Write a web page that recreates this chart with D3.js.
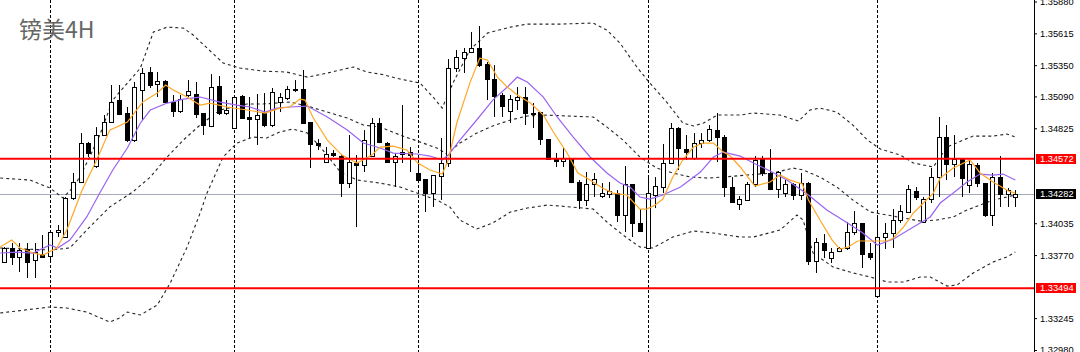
<!DOCTYPE html>
<html>
<head>
<meta charset="utf-8">
<script src="https://cdn.jsdelivr.net/npm/d3@7"></script>
<style>
  html, body { margin: 0; padding: 0; background: #fff; overflow: hidden; }
</style>
</head>
<body>
<div id="chart"></div>
<script>
// GBPUSD 4H candles
const opens = [
  1.33712,1.33829,1.33754,1.33820,1.33729,1.33779,1.33762,1.33962,1.33920,1.34245,
  1.34378,1.34702,1.34511,1.34769,1.34877,1.35060,1.34952,1.34727,1.35143,1.35293,
  1.35193,1.35218,1.35043,1.34968,1.35102,1.35110,1.34952,1.34844,1.35176,1.34952,
  1.34827,1.35093,1.34919,1.34902,1.34952,1.34852,1.35043,1.35077,1.35151,1.35151,
  1.34877,1.34702,1.34544,1.34619,1.34594,1.34369,1.34536,1.34519,1.34594,1.34869,
  1.34702,1.34544,1.34611,1.34627,1.34453,1.34403,1.34286,1.34428,1.34536,1.35326,
  1.35409,1.35459,1.35493,1.35360,1.35235,1.35102,1.34968,1.35060,1.35085,1.34952,
  1.34960,1.34735,1.34569,1.34552,1.34569,1.34378,1.34228,1.34361,1.34261,1.34278,
  1.34286,1.34103,1.34361,1.34037,1.33829,1.34270,1.34336,1.34536,1.34827,1.34652,
  1.34577,1.34702,1.34727,1.34810,1.34752,1.34336,1.34195,1.34228,1.34361,1.34577,
  1.34453,1.34319,1.34286,1.34361,1.34270,1.34369,1.33720,1.33870,1.33745,1.33804,
  1.33829,1.33962,1.34037,1.33787,1.33429,1.33920,1.33953,1.34062,1.34128,1.34303,
  1.34045,1.34236,1.34419,1.34752,1.34528,1.34569,1.34353,1.34519,1.34369,1.34103,
  1.34419,1.34278,1.34253
];
const highs = [
  1.33837,1.33870,1.33870,1.33870,1.33870,1.33937,1.33962,1.34020,1.34253,1.34453,
  1.34785,1.34711,1.34835,1.34935,1.35185,1.35185,1.35002,1.35210,1.35326,1.35335,
  1.35293,1.35226,1.35102,1.35102,1.35226,1.35210,1.34952,1.35276,1.35260,1.35060,
  1.35085,1.35102,1.35085,1.35110,1.35118,1.35160,1.35118,1.35176,1.35226,1.35310,
  1.34877,1.34735,1.34669,1.34644,1.34611,1.34769,1.34602,1.34810,1.34910,1.34910,
  1.34711,1.34619,1.35018,1.34669,1.34561,1.34403,1.34436,1.34744,1.35401,1.35476,
  1.35493,1.35626,1.35676,1.35376,1.35351,1.35118,1.35102,1.35168,1.35168,1.35035,
  1.34960,1.34735,1.34619,1.34661,1.34577,1.34394,1.34461,1.34453,1.34369,1.34378,
  1.34311,1.34511,1.34361,1.34153,1.34428,1.34419,1.34694,1.34869,1.34835,1.34769,
  1.34785,1.34785,1.34852,1.34952,1.34769,1.34419,1.34261,1.34378,1.34594,1.34594,
  1.34652,1.34469,1.34394,1.34369,1.34453,1.34378,1.33912,1.33945,1.33829,1.33837,
  1.34045,1.34136,1.34037,1.33870,1.34103,1.34037,1.34153,1.34186,1.34353,1.34336,
  1.34253,1.34494,1.34919,1.34852,1.34769,1.34569,1.34561,1.34536,1.34369,1.34453,
  1.34594,1.34328,1.34311
];
const lows = [
  1.33704,1.33687,1.33629,1.33579,1.33579,1.33745,1.33704,1.33920,1.33912,1.34228,
  1.34369,1.34586,1.34494,1.34769,1.34877,1.34935,1.34711,1.34711,1.34894,1.35160,
  1.35085,1.35035,1.34919,1.34952,1.35085,1.34910,1.34769,1.34835,1.34935,1.34935,
  1.34827,1.34910,1.34744,1.34686,1.34835,1.34835,1.34960,1.35060,1.35127,1.34869,
  1.34494,1.34644,1.34536,1.34586,1.34253,1.34328,1.34003,1.34461,1.34586,1.34702,
  1.34544,1.34336,1.34536,1.34461,1.34369,1.34128,1.34170,1.34228,1.34503,1.35293,
  1.35285,1.35451,1.35335,1.35060,1.34919,1.34919,1.34869,1.34977,1.34852,1.34827,
  1.34686,1.34561,1.34503,1.34503,1.34369,1.34153,1.34178,1.34253,1.34245,1.34245,
  1.34045,1.33962,1.33920,1.33970,1.33829,1.34161,1.34286,1.34536,1.34478,1.34561,
  1.34561,1.34661,1.34711,1.34544,1.34253,1.34203,1.34145,1.34220,1.34336,1.34428,
  1.34311,1.34245,1.34253,1.34228,1.34228,1.33687,1.33621,1.33745,1.33704,1.33795,
  1.33812,1.33937,1.33662,1.33729,1.33429,1.33820,1.33829,1.34037,1.34120,1.34228,
  1.34037,1.34203,1.34253,1.34394,1.34419,1.34253,1.34286,1.34336,1.34087,1.34012,
  1.34170,1.34170,1.34170
];
const closes = [
  1.33829,1.33754,1.33812,1.33712,1.33795,1.33754,1.33962,1.33978,1.34245,1.34378,
  1.34702,1.34619,1.34769,1.34877,1.35043,1.34943,1.34727,1.35168,1.35285,1.35185,
  1.35218,1.35043,1.34968,1.35068,1.35135,1.34943,1.34852,1.35168,1.34952,1.34977,
  1.35085,1.34910,1.34902,1.34935,1.34852,1.35127,1.35085,1.35151,1.35143,1.34869,
  1.34694,1.34686,1.34611,1.34602,1.34369,1.34544,1.34519,1.34727,1.34869,1.34711,
  1.34544,1.34594,1.34627,1.34602,1.34394,1.34286,1.34436,1.34536,1.35326,1.35418,
  1.35459,1.35493,1.35351,1.35235,1.35093,1.35010,1.35068,1.35085,1.34952,1.34943,
  1.34735,1.34569,1.34552,1.34577,1.34378,1.34228,1.34361,1.34403,1.34286,1.34303,
  1.34103,1.34361,1.34037,1.33970,1.34286,1.34344,1.34536,1.34827,1.34661,1.34627,
  1.34702,1.34727,1.34819,1.34752,1.34336,1.34211,1.34236,1.34361,1.34561,1.34453,
  1.34319,1.34461,1.34361,1.34270,1.34369,1.33720,1.33879,1.33812,1.33795,1.33829,
  1.33962,1.34037,1.33779,1.33754,1.33920,1.33953,1.34062,1.34136,1.34319,1.34253,
  1.34236,1.34419,1.34752,1.34528,1.34569,1.34411,1.34528,1.34369,1.34103,1.34419,
  1.34278,1.34311,1.34282
];

// indicator lines, [bar index, price]
const maFast = [[-0.5,1.33837],[1.0,1.33895],[2.1,1.33829],[3.8,1.33787],[5.1,1.33770],[6.9,1.33829],[8.2,1.33978],[10.2,1.34311],[12.1,1.34561],[13.8,1.34810],[16.1,1.34877],[18.1,1.35043],[20.0,1.35118],[21.1,1.35185],[22.1,1.35143],[23.9,1.35085],[25.6,1.35018],[26.9,1.35035],[29.1,1.35002],[31.7,1.34977],[34.1,1.34952],[36.0,1.34993],[37.3,1.35002],[38.6,1.35068],[39.3,1.35060],[40.3,1.34919],[42.2,1.34727],[44.1,1.34602],[46.1,1.34536],[48.0,1.34602],[49.1,1.34669],[50.8,1.34677],[52.6,1.34644],[54.0,1.34536],[55.6,1.34478],[57.2,1.34444],[58.0,1.34561],[59.1,1.34869],[60.8,1.35201],[62.1,1.35409],[63.1,1.35393],[64.4,1.35251],[65.7,1.35168],[67.0,1.35102],[68.7,1.35035],[70.4,1.34935],[71.7,1.34794],[73.5,1.34619],[74.9,1.34453],[76.5,1.34394],[78.1,1.34328],[79.5,1.34286],[81.3,1.34270],[83.0,1.34153],[83.9,1.34153],[85.0,1.34186],[86.0,1.34236],[87.3,1.34419],[88.6,1.34561],[90.0,1.34669],[91.3,1.34702],[92.6,1.34702],[93.9,1.34627],[94.8,1.34594],[96.1,1.34503],[98.0,1.34344],[100.0,1.34378],[101.3,1.34436],[102.6,1.34394],[104.2,1.34361],[105.0,1.34228],[106.5,1.34062],[108.1,1.33895],[109.1,1.33820],[110.2,1.33837],[111.4,1.33887],[112.7,1.33887],[114.0,1.33887],[115.3,1.33887],[116.1,1.33912],[117.4,1.34003],[118.7,1.34120],[120.0,1.34203],[121.3,1.34286],[122.2,1.34411],[123.9,1.34494],[126.1,1.34561],[127.4,1.34453],[129.1,1.34378],[131.1,1.34303],[132.0,1.34286]];

const maSlow = [[-0.5,1.33787],[1.7,1.33795],[3.8,1.33787],[6.0,1.33854],[7.0,1.33829],[8.6,1.33895],[10.8,1.34087],[12.5,1.34286],[14.2,1.34478],[16.1,1.34661],[17.8,1.34869],[19.1,1.34977],[21.3,1.35035],[23.4,1.35068],[25.6,1.35085],[28.2,1.35043],[30.4,1.35018],[32.1,1.35002],[34.1,1.34960],[35.6,1.34993],[37.3,1.35002],[39.6,1.35010],[42.2,1.34919],[44.8,1.34810],[46.9,1.34702],[49.1,1.34661],[50.8,1.34619],[53.9,1.34611],[55.6,1.34594],[57.2,1.34561],[58.0,1.34602],[59.5,1.34727],[61.7,1.34894],[63.8,1.35060],[65.7,1.35168],[67.0,1.35251],[68.3,1.35210],[70.4,1.35085],[72.2,1.34919],[74.3,1.34752],[76.5,1.34586],[78.7,1.34453],[80.4,1.34369],[81.7,1.34336],[83.0,1.34253],[84.3,1.34236],[86.0,1.34270],[88.3,1.34336],[90.9,1.34461],[92.6,1.34586],[93.9,1.34627],[96.1,1.34594],[97.8,1.34536],[100.0,1.34469],[102.2,1.34394],[105.0,1.34270],[107.4,1.34145],[110.1,1.34037],[112.1,1.33953],[114.0,1.33854],[116.1,1.33904],[118.7,1.34003],[120.9,1.34087],[122.2,1.34203],[123.9,1.34286],[125.7,1.34378],[127.4,1.34444],[129.1,1.34436],[130.4,1.34444],[132.0,1.34394]];

const bbUpper = [[-0.5,1.34411],[3.4,1.34394],[6.0,1.34328],[7.7,1.34245],[9.3,1.34353],[11.0,1.34561],[12.5,1.34769],[14.2,1.35060],[16.1,1.35201],[17.8,1.35326],[19.5,1.35626],[21.3,1.35667],[23.4,1.35659],[24.7,1.35601],[26.5,1.35493],[28.6,1.35368],[30.8,1.35326],[33.8,1.35301],[36.9,1.35293],[39.6,1.35251],[41.6,1.35276],[43.9,1.35310],[45.6,1.35335],[47.4,1.35293],[49.1,1.35276],[51.7,1.35235],[54.3,1.35201],[56.0,1.35085],[57.2,1.34993],[58.6,1.35201],[60.8,1.35476],[63.1,1.35617],[66.1,1.35667],[68.3,1.35692],[72.6,1.35692],[76.9,1.35701],[78.7,1.35642],[80.4,1.35534],[82.6,1.35335],[84.3,1.35201],[86.6,1.35035],[88.6,1.34869],[90.0,1.34844],[91.3,1.34869],[93.1,1.34935],[96.1,1.34935],[97.8,1.34952],[101.3,1.34935],[103.7,1.34885],[105.2,1.34977],[106.5,1.34993],[108.7,1.34960],[110.8,1.34852],[112.7,1.34727],[114.4,1.34652],[117.0,1.34602],[118.7,1.34536],[121.3,1.34503],[123.1,1.34669],[125.2,1.34727],[126.5,1.34760],[129.1,1.34760],[130.9,1.34777],[132.0,1.34752]];

const bbMid = [[-0.5,1.33829],[6.0,1.33812],[8.6,1.33829],[10.8,1.33978],[13.8,1.34170],[16.8,1.34295],[19.1,1.34419],[21.3,1.34586],[23.4,1.34727],[25.6,1.34852],[28.2,1.34977],[31.7,1.35027],[33.8,1.35027],[37.3,1.35043],[39.6,1.35010],[42.2,1.34960],[44.8,1.34910],[46.9,1.34852],[49.1,1.34835],[51.7,1.34769],[54.3,1.34711],[56.5,1.34661],[57.8,1.34611],[59.5,1.34702],[61.7,1.34785],[63.8,1.34844],[66.1,1.34894],[68.3,1.34927],[70.9,1.34935],[73.5,1.34927],[76.9,1.34919],[78.7,1.34835],[80.8,1.34727],[83.0,1.34586],[85.2,1.34494],[87.3,1.34453],[89.6,1.34419],[91.8,1.34411],[93.9,1.34419],[97.0,1.34436],[100.4,1.34453],[103.0,1.34494],[104.3,1.34478],[106.5,1.34419],[108.7,1.34336],[110.8,1.34228],[113.1,1.34128],[115.3,1.34103],[117.4,1.34078],[119.6,1.34053],[121.8,1.34062],[123.9,1.34087],[125.7,1.34145],[127.4,1.34186],[129.1,1.34228],[130.9,1.34253],[132.0,1.34270]];

const bbLower = [[-0.5,1.33288],[6.0,1.33338],[8.2,1.33329],[10.8,1.33296],[13.8,1.33213],[15.1,1.33246],[16.1,1.33296],[17.8,1.33271],[20.0,1.33354],[21.7,1.33537],[23.9,1.33837],[25.6,1.34120],[26.5,1.34286],[28.6,1.34586],[30.4,1.34702],[32.5,1.34752],[34.3,1.34744],[36.0,1.34794],[37.7,1.34819],[39.6,1.34785],[41.3,1.34669],[43.9,1.34461],[46.1,1.34394],[49.1,1.34369],[51.7,1.34336],[53.9,1.34286],[56.5,1.34228],[58.2,1.34170],[59.5,1.34062],[61.7,1.33987],[63.8,1.34037],[66.1,1.34128],[68.3,1.34161],[70.9,1.34186],[72.6,1.34178],[76.9,1.34153],[78.7,1.34045],[80.8,1.33937],[83.0,1.33837],[84.7,1.33829],[87.3,1.33920],[90.0,1.33970],[92.6,1.33953],[96.1,1.33920],[97.8,1.33920],[101.3,1.33978],[103.5,1.34103],[104.3,1.34062],[105.6,1.33787],[108.2,1.33671],[110.8,1.33621],[113.1,1.33587],[115.3,1.33546],[117.4,1.33546],[119.6,1.33587],[120.9,1.33587],[123.1,1.33512],[124.4,1.33521],[126.5,1.33621],[129.1,1.33712],[130.9,1.33754],[132.0,1.33795]];

const priceTicks = [1.35880, 1.35615, 1.35350, 1.35090, 1.34825, 1.34035, 1.33770, 1.33245, 1.32980];
const levels = [1.34572, 1.33494];
const lastPrice = 1.34282;
const gridBars = [6, 30, 54, 84, 114];
const title = "镑美4H";

const width = 1080, height = 352, plotRight = 1034;

const x = d3.scaleLinear().domain([0, 132]).range([4, 1015.3]);
const y = d3.scaleLinear().domain([1.32980, 1.35880]).range([350, 1.5]);

const svg = d3.select("#chart").append("svg")
    .attr("width", width)
    .attr("height", height)
    .attr("viewBox", [0, 0, width, height])
    .style("display", "block");

svg.append("rect").attr("width", width).attr("height", height).attr("fill", "#fff");

svg.append("defs").append("clipPath")
    .attr("id", "clip")
  .append("rect")
    .attr("width", plotRight)
    .attr("height", height);

const plot = svg.append("g").attr("clip-path", "url(#clip)");

// vertical grid (dotted)
plot.append("g")
  .selectAll("line")
  .data(gridBars)
  .join("line")
    .attr("x1", d => Math.round(x(d)) + 0.5)
    .attr("x2", d => Math.round(x(d)) + 0.5)
    .attr("y1", 0)
    .attr("y2", height)
    .attr("stroke", "#000")
    .attr("stroke-dasharray", "3,2");

// current price line
plot.append("line")
    .attr("x1", 0).attr("x2", plotRight)
    .attr("y1", Math.round(y(lastPrice)) + 0.5)
    .attr("y2", Math.round(y(lastPrice)) + 0.5)
    .attr("stroke", "#a3abb9");

const line = d3.line()
    .x(d => x(d[0]))
    .y(d => y(d[1]));

// bollinger bands
for (const band of [bbUpper, bbMid, bbLower]) {
  plot.append("path")
      .datum(band)
      .attr("fill", "none")
      .attr("stroke", "#262626")
      .attr("stroke-width", 1.1)
      .attr("stroke-dasharray", "3,3")
      .attr("d", line);
}

// candles
const idx = d3.range(opens.length);
const candles = plot.append("g");
candles.selectAll("line")
  .data(idx)
  .join("line")
    .attr("x1", i => Math.round(x(i)) + 0.5)
    .attr("x2", i => Math.round(x(i)) + 0.5)
    .attr("y1", i => y(highs[i]))
    .attr("y2", i => y(lows[i]))
    .attr("stroke", "#000");

candles.selectAll("rect")
  .data(idx)
  .join("rect")
    .attr("x", i => Math.round(x(i)) - 1.5)
    .attr("width", 4)
    .attr("y", i => Math.round(y(Math.max(opens[i], closes[i]))) + 0.5)
    .attr("height", i => Math.max(1, Math.round(Math.abs(y(opens[i]) - y(closes[i])))))
    .attr("fill", i => closes[i] >= opens[i] ? "#fff" : "#000")
    .attr("stroke", "#000");

// moving averages
plot.append("path")
    .datum(maSlow)
    .attr("fill", "none")
    .attr("stroke", "#9a63f2")
    .attr("stroke-width", 1.2)
    .attr("d", line);

plot.append("path")
    .datum(maFast)
    .attr("fill", "none")
    .attr("stroke", "#ffa726")
    .attr("stroke-width", 1.2)
    .attr("d", line);

// horizontal levels
plot.append("g")
  .selectAll("line")
  .data(levels)
  .join("line")
    .attr("x1", 0).attr("x2", plotRight)
    .attr("y1", d => y(d)).attr("y2", d => y(d))
    .attr("stroke", "#ff0000")
    .attr("stroke-width", 2);

// title
svg.append("text")
    .attr("x", 19)
    .attr("y", 37.5)
    .attr("font-family", "'Noto Sans CJK SC', sans-serif")
    .attr("font-size", 23)
    .attr("fill", "#666")
    .text(title);

// price axis
svg.append("line")
    .attr("x1", plotRight + 0.5).attr("x2", plotRight + 0.5)
    .attr("y1", 0).attr("y2", height)
    .attr("stroke", "#000");

const yAxis = d3.axisRight(y)
    .tickValues(priceTicks)
    .tickFormat(d3.format(".5f"))
    .tickSize(3)
    .tickPadding(3)
    .tickSizeOuter(0);

svg.append("g")
    .attr("transform", `translate(${plotRight},0)`)
    .call(yAxis)
    .call(g => g.select(".domain").remove())
    .call(g => g.selectAll("text")
        .attr("font-family", "'Liberation Sans', Arial, sans-serif")
        .attr("font-size", 9.3)
        .attr("fill", "#000"));

// marked prices
const marks = [
  { v: levels[0], bg: "#ff0000" },
  { v: lastPrice, bg: "#000" },
  { v: levels[1], bg: "#ff0000" }
];
const markG = svg.append("g")
  .selectAll("g")
  .data(marks)
  .join("g")
    .attr("transform", d => `translate(${plotRight + 2},${Math.round(y(d.v))})`);
markG.append("rect")
    .attr("x", 0).attr("y", -5)
    .attr("width", 40).attr("height", 10)
    .attr("fill", d => d.bg);
markG.append("text")
    .attr("x", 4)
    .attr("dy", "0.32em")
    .attr("font-family", "'Liberation Sans', Arial, sans-serif")
    .attr("font-size", 9.3)
    .attr("fill", "#fff")
    .text(d => d3.format(".5f")(d.v));
</script>
</body>
</html>
